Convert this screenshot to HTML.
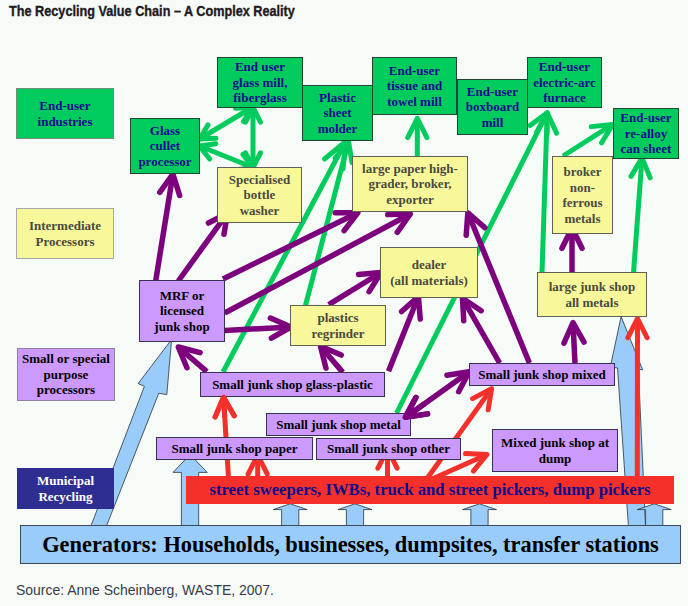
<!DOCTYPE html>
<html><head><meta charset="utf-8"><style>
html,body{margin:0;padding:0}
body{width:688px;height:606px;background:#f6fbf8;position:relative;overflow:hidden;font-family:"Liberation Serif",serif}
.bx{position:absolute;box-sizing:border-box;display:flex;align-items:center;justify-content:center;text-align:center;font-weight:bold;white-space:nowrap}
.title{position:absolute;left:9px;top:0.8px;font-family:"Liberation Sans",sans-serif;font-weight:bold;font-size:14.3px;color:#1f1a22;transform-origin:0 0;transform:scaleX(0.887);white-space:nowrap;line-height:20px;-webkit-text-stroke:0.35px #1f1a22}
.src{position:absolute;left:15.6px;top:579.9px;font-family:"Liberation Sans",sans-serif;font-size:14.5px;color:#3a3a48;white-space:nowrap;line-height:20px;transform-origin:0 0;transform:scaleX(0.963)}
svg{position:absolute;left:0;top:0}
</style></head><body>
<div class="title">The Recycling Value Chain – A Complex Reality</div>
<svg width="688" height="606" viewBox="0 0 688 606">
<polygon points="171.6,339.5 166.8,394.7 158.8,393.2 106.6,525.7 91.0,525.7 144.4,386.3 138.1,383.6" fill="#99ccf8" stroke="#2a3440" stroke-width="0.8" stroke-linejoin="miter"/>
<polygon points="621.1,316.6 642.6,369.7 638.4,369.5 645.5,525.7 628.4,525.7 617.5,368.0 610.3,367.0" fill="#99ccf8" stroke="#2a3440" stroke-width="0.8" stroke-linejoin="miter"/>
<polygon points="190.1,454.5 207.2,472.4 198.7,472.4 198.7,525.7 181.4,525.7 181.4,472.4 173.0,472.4" fill="#99ccf8" stroke="#2a3440" stroke-width="0.8" stroke-linejoin="miter"/>
<polygon points="290.2,503.8 307.2,509.6 298.8,509.6 298.8,525.7 281.6,525.7 281.6,509.6 273.2,509.6" fill="#99ccf8" stroke="#2a3440" stroke-width="0.8" stroke-linejoin="miter"/>
<polygon points="355.0,503.8 372.0,509.6 363.6,509.6 363.6,525.7 346.4,525.7 346.4,509.6 338.0,509.6" fill="#99ccf8" stroke="#2a3440" stroke-width="0.8" stroke-linejoin="miter"/>
<polygon points="479.5,503.8 496.5,509.6 488.1,509.6 488.1,525.7 470.9,525.7 470.9,509.6 462.5,509.6" fill="#99ccf8" stroke="#2a3440" stroke-width="0.8" stroke-linejoin="miter"/>
<polygon points="654.2,503.8 671.2,509.6 662.8,509.6 662.8,525.7 645.6,525.7 645.6,509.6 637.2,509.6" fill="#99ccf8" stroke="#2a3440" stroke-width="0.8" stroke-linejoin="miter"/>
<path d="M199.50,139.00 L252.00,107.50" fill="none" stroke="#00cc5e" stroke-width="5" stroke-linecap="butt"/>
<path d="M243.49,121.64 L252.00,107.50 L235.52,108.35 M208.01,124.86 L199.50,139.00 L215.98,138.15" fill="none" stroke="#00cc5e" stroke-width="5" stroke-linecap="round" stroke-linejoin="round"/>
<path d="M199.50,146.00 L253.00,167.50" fill="none" stroke="#00cc5e" stroke-width="5" stroke-linecap="butt"/>
<path d="M236.66,169.83 L253.00,167.50 L242.82,154.52 M215.84,143.67 L199.50,146.00 L209.68,158.98" fill="none" stroke="#00cc5e" stroke-width="5" stroke-linecap="round" stroke-linejoin="round"/>
<path d="M253.00,107.50 L253.00,167.50" fill="none" stroke="#00cc5e" stroke-width="5" stroke-linecap="butt"/>
<path d="M245.51,152.80 L253.00,167.50 L260.49,152.80 M260.49,122.20 L253.00,107.50 L245.51,122.20" fill="none" stroke="#00cc5e" stroke-width="5" stroke-linecap="round" stroke-linejoin="round"/>
<path d="M223.00,372.00 L345.70,141.50" fill="none" stroke="#00cc5e" stroke-width="5" stroke-linecap="butt"/>
<path d="M343.05,168.87 L345.70,141.50 L324.47,158.98" fill="none" stroke="#00cc5e" stroke-width="5" stroke-linecap="round" stroke-linejoin="round"/>
<path d="M305.50,305.40 L348.50,141.50" fill="none" stroke="#00cc5e" stroke-width="5" stroke-linecap="butt"/>
<path d="M351.97,162.72 L348.50,141.50 L335.06,158.28" fill="none" stroke="#00cc5e" stroke-width="5" stroke-linecap="round" stroke-linejoin="round"/>
<path d="M417.30,157.00 L417.30,118.30" fill="none" stroke="#00cc5e" stroke-width="5" stroke-linecap="butt"/>
<path d="M426.89,137.54 L417.30,118.30 L407.71,137.54" fill="none" stroke="#00cc5e" stroke-width="5" stroke-linecap="round" stroke-linejoin="round"/>
<path d="M396.60,413.00 L547.20,112.70" fill="none" stroke="#00cc5e" stroke-width="5" stroke-linecap="butt"/>
<path d="M547.15,134.20 L547.20,112.70 L530.00,125.60" fill="none" stroke="#00cc5e" stroke-width="5" stroke-linecap="round" stroke-linejoin="round"/>
<path d="M542.00,273.00 L547.20,112.70" fill="none" stroke="#00cc5e" stroke-width="5" stroke-linecap="butt"/>
<path d="M556.58,133.15 L547.20,112.70 L536.51,132.50" fill="none" stroke="#00cc5e" stroke-width="5" stroke-linecap="round" stroke-linejoin="round"/>
<path d="M563.00,156.00 L612.70,124.40" fill="none" stroke="#00cc5e" stroke-width="5" stroke-linecap="butt"/>
<path d="M601.61,142.82 L612.70,124.40 L591.32,126.63" fill="none" stroke="#00cc5e" stroke-width="5" stroke-linecap="round" stroke-linejoin="round"/>
<path d="M633.50,273.00 L642.00,157.90" fill="none" stroke="#00cc5e" stroke-width="5" stroke-linecap="butt"/>
<path d="M650.15,177.80 L642.00,157.90 L631.02,176.38" fill="none" stroke="#00cc5e" stroke-width="5" stroke-linecap="round" stroke-linejoin="round"/>
<path d="M228.50,478.00 L223.50,397.20" fill="none" stroke="#f5302a" stroke-width="5" stroke-linecap="butt"/>
<path d="M234.26,415.81 L223.50,397.20 L215.11,417.00" fill="none" stroke="#f5302a" stroke-width="5" stroke-linecap="round" stroke-linejoin="round"/>
<path d="M257.70,478.00 L257.70,455.00" fill="none" stroke="#f5302a" stroke-width="5" stroke-linecap="butt"/>
<path d="M267.29,474.24 L257.70,455.00 L248.11,474.24" fill="none" stroke="#f5302a" stroke-width="5" stroke-linecap="round" stroke-linejoin="round"/>
<path d="M387.50,478.00 L387.50,449.00" fill="none" stroke="#f5302a" stroke-width="5" stroke-linecap="butt"/>
<path d="M397.09,468.24 L387.50,449.00 L377.91,468.24" fill="none" stroke="#f5302a" stroke-width="5" stroke-linecap="round" stroke-linejoin="round"/>
<path d="M427.40,478.00 L491.60,388.60" fill="none" stroke="#f5302a" stroke-width="5" stroke-linecap="butt"/>
<path d="M488.17,409.82 L491.60,388.60 L472.58,398.63" fill="none" stroke="#f5302a" stroke-width="5" stroke-linecap="round" stroke-linejoin="round"/>
<path d="M434.40,478.00 L487.00,454.50" fill="none" stroke="#f5302a" stroke-width="5" stroke-linecap="butt"/>
<path d="M473.35,471.11 L487.00,454.50 L465.52,453.59" fill="none" stroke="#f5302a" stroke-width="5" stroke-linecap="round" stroke-linejoin="round"/>
<path d="M637.30,478.00 L637.50,318.50" fill="none" stroke="#f5302a" stroke-width="5" stroke-linecap="butt"/>
<path d="M647.07,337.75 L637.50,318.50 L627.88,337.73" fill="none" stroke="#f5302a" stroke-width="5" stroke-linecap="round" stroke-linejoin="round"/>
<path d="M155.70,281.00 L172.90,174.00" fill="none" stroke="#7d007d" stroke-width="5.5" stroke-linecap="butt"/>
<path d="M179.62,195.47 L172.90,174.00 L159.79,192.29" fill="none" stroke="#7d007d" stroke-width="5.5" stroke-linecap="round" stroke-linejoin="round"/>
<path d="M178.30,281.00 L227.50,213.10" fill="none" stroke="#7d007d" stroke-width="5.5" stroke-linecap="butt"/>
<path d="M223.98,234.31 L227.50,213.10 L208.44,223.05" fill="none" stroke="#7d007d" stroke-width="5.5" stroke-linecap="round" stroke-linejoin="round"/>
<path d="M223.00,279.00 L357.80,212.80" fill="none" stroke="#7d007d" stroke-width="5.5" stroke-linecap="butt"/>
<path d="M344.15,230.69 L357.80,212.80 L335.30,212.66" fill="none" stroke="#7d007d" stroke-width="5.5" stroke-linecap="round" stroke-linejoin="round"/>
<path d="M224.60,313.00 L410.30,214.00" fill="none" stroke="#7d007d" stroke-width="5.5" stroke-linecap="butt"/>
<path d="M397.25,232.33 L410.30,214.00 L387.81,214.61" fill="none" stroke="#7d007d" stroke-width="5.5" stroke-linecap="round" stroke-linejoin="round"/>
<path d="M224.60,330.40 L291.00,327.00" fill="none" stroke="#7d007d" stroke-width="5.5" stroke-linecap="butt"/>
<path d="M271.40,338.06 L291.00,327.00 L270.38,318.00" fill="none" stroke="#7d007d" stroke-width="5.5" stroke-linecap="round" stroke-linejoin="round"/>
<path d="M328.70,304.70 L381.00,272.50" fill="none" stroke="#7d007d" stroke-width="5.5" stroke-linecap="butt"/>
<path d="M369.12,291.61 L381.00,272.50 L358.59,274.51" fill="none" stroke="#7d007d" stroke-width="5.5" stroke-linecap="round" stroke-linejoin="round"/>
<path d="M342.80,372.40 L320.50,346.30" fill="none" stroke="#7d007d" stroke-width="5.5" stroke-linecap="butt"/>
<path d="M341.21,355.09 L320.50,346.30 L325.95,368.13" fill="none" stroke="#7d007d" stroke-width="5.5" stroke-linecap="round" stroke-linejoin="round"/>
<path d="M206.80,371.70 L178.30,347.00" fill="none" stroke="#7d007d" stroke-width="5.5" stroke-linecap="butt"/>
<path d="M200.09,352.60 L178.30,347.00 L186.94,367.77" fill="none" stroke="#7d007d" stroke-width="5.5" stroke-linecap="round" stroke-linejoin="round"/>
<path d="M388.50,371.20 L418.40,296.60" fill="none" stroke="#7d007d" stroke-width="5.5" stroke-linecap="butt"/>
<path d="M420.23,319.03 L418.40,296.60 L401.59,311.56" fill="none" stroke="#7d007d" stroke-width="5.5" stroke-linecap="round" stroke-linejoin="round"/>
<path d="M405.30,417.40 L469.20,371.80" fill="none" stroke="#7d007d" stroke-width="5.5" stroke-linecap="butt"/>
<path d="M458.64,391.67 L469.20,371.80 L446.98,375.32 M415.86,397.53 L405.30,417.40 L427.52,413.88" fill="none" stroke="#7d007d" stroke-width="5.5" stroke-linecap="round" stroke-linejoin="round"/>
<path d="M499.60,363.00 L462.45,298.20" fill="none" stroke="#7d007d" stroke-width="5.5" stroke-linecap="butt"/>
<path d="M481.17,310.68 L462.45,298.20 L463.76,320.66" fill="none" stroke="#7d007d" stroke-width="5.5" stroke-linecap="round" stroke-linejoin="round"/>
<path d="M529.40,363.00 L467.85,212.80" fill="none" stroke="#7d007d" stroke-width="5.5" stroke-linecap="butt"/>
<path d="M484.77,227.63 L467.85,212.80 L466.20,235.24" fill="none" stroke="#7d007d" stroke-width="5.5" stroke-linecap="round" stroke-linejoin="round"/>
<path d="M575.00,363.00 L573.00,322.60" fill="none" stroke="#7d007d" stroke-width="5.5" stroke-linecap="butt"/>
<path d="M584.02,342.21 L573.00,322.60 L563.97,343.21" fill="none" stroke="#7d007d" stroke-width="5.5" stroke-linecap="round" stroke-linejoin="round"/>
<path d="M572.00,273.00 L572.00,228.10" fill="none" stroke="#7d007d" stroke-width="5.5" stroke-linecap="butt"/>
<path d="M582.04,248.24 L572.00,228.10 L561.96,248.24" fill="none" stroke="#7d007d" stroke-width="5.5" stroke-linecap="round" stroke-linejoin="round"/>
</svg>
<div class="bx" style="left:16.0px;top:88.0px;width:98.0px;height:51.0px;background:#00cc5e;color:#0c0c8c;border:1px solid #6f8f78;font-size:13px;line-height:15.5px"><span style="position:relative;top:0px">End-user<br>industries</span></div>
<div class="bx" style="left:16.0px;top:208.0px;width:98.0px;height:51.0px;background:#f8f89a;color:#4a4a40;border:1px solid #a4a8a8;font-size:13px;line-height:15.5px"><span style="position:relative;top:0px">Intermediate<br>Processors</span></div>
<div class="bx" style="left:17.0px;top:348.0px;width:98.0px;height:53.0px;background:#cc99ff;color:#000;border:1px solid #9080a0;font-size:13px;line-height:15.5px"><span style="position:relative;top:0px">Small or special<br>purpose<br>processors</span></div>
<div class="bx" style="left:17.0px;top:468.0px;width:97.0px;height:41.0px;background:#2e2e92;color:#fff;border:1px solid #2e2e92;font-size:13px;line-height:15.5px"><span style="position:relative;top:0px">Municipal<br>Recycling</span></div>
<div class="bx" style="left:130.0px;top:118.0px;width:70.0px;height:56.0px;background:#00cc5e;color:#0c0c8c;border:1px solid #21452e;font-size:13px;line-height:15.5px"><span style="position:relative;top:0px">Glass<br>cullet<br>processor</span></div>
<div class="bx" style="left:217.0px;top:57.0px;width:86.0px;height:51.0px;background:#00cc5e;color:#0c0c8c;border:1px solid #21452e;font-size:13px;line-height:15.5px"><span style="position:relative;top:0px">End user<br>glass mill,<br>fiberglass</span></div>
<div class="bx" style="left:302.0px;top:85.0px;width:71.0px;height:56.0px;background:#00cc5e;color:#0c0c8c;border:1px solid #21452e;font-size:13px;line-height:15.5px"><span style="position:relative;top:0px">Plastic<br>sheet<br>molder</span></div>
<div class="bx" style="left:372.0px;top:57.0px;width:85.0px;height:58.0px;background:#00cc5e;color:#0c0c8c;border:1px solid #21452e;font-size:13px;line-height:15.5px"><span style="position:relative;top:0px">End-user<br>tissue and<br>towel mill</span></div>
<div class="bx" style="left:457.0px;top:79.0px;width:71.0px;height:56.0px;background:#00cc5e;color:#0c0c8c;border:1px solid #21452e;font-size:13px;line-height:15.5px"><span style="position:relative;top:0px">End-user<br>boxboard<br>mill</span></div>
<div class="bx" style="left:527.0px;top:57.0px;width:75.0px;height:51.0px;background:#00cc5e;color:#0c0c8c;border:1px solid #21452e;font-size:13px;line-height:15.5px"><span style="position:relative;top:0px">End-user<br>electric-arc<br>furnace</span></div>
<div class="bx" style="left:613.0px;top:108.0px;width:66.0px;height:51.0px;background:#00cc5e;color:#0c0c8c;border:1px solid #21452e;font-size:13px;line-height:15.5px"><span style="position:relative;top:0px">End-user<br>re-alloy<br>can sheet</span></div>
<div class="bx" style="left:217.0px;top:167.0px;width:85.0px;height:56.0px;background:#f8f89a;color:#4a4a40;border:1px solid #606058;font-size:13px;line-height:15.5px"><span style="position:relative;top:0px">Specialised<br>bottle<br>washer</span></div>
<div class="bx" style="left:352.0px;top:156.0px;width:116.0px;height:56.0px;background:#f8f89a;color:#4a4a40;border:1px solid #606058;font-size:13px;line-height:15.5px"><span style="position:relative;top:0px">large paper high-<br>grader, broker,<br>exporter</span></div>
<div class="bx" style="left:552.0px;top:156.0px;width:61.0px;height:78.0px;background:#f8f89a;color:#4a4a40;border:1px solid #606058;font-size:13px;line-height:15.5px"><span style="position:relative;top:0px">broker<br>non-<br>ferrous<br>metals</span></div>
<div class="bx" style="left:380.0px;top:247.0px;width:98.0px;height:51.0px;background:#f8f89a;color:#4a4a40;border:1px solid #606058;font-size:13px;line-height:15.5px"><span style="position:relative;top:0px">dealer<br>(all materials)</span></div>
<div class="bx" style="left:290.0px;top:305.0px;width:96.0px;height:41.0px;background:#f8f89a;color:#4a4a40;border:1px solid #606058;font-size:13px;line-height:15.5px"><span style="position:relative;top:0px">plastics<br>regrinder</span></div>
<div class="bx" style="left:537.0px;top:272.0px;width:110.0px;height:45.0px;background:#f8f89a;color:#4a4a40;border:1px solid #606058;font-size:13px;line-height:15.5px"><span style="position:relative;top:0px">large junk shop<br>all metals</span></div>
<div class="bx" style="left:139.0px;top:280.0px;width:86.0px;height:62.0px;background:#cc99ff;color:#000;border:1px solid #3a3050;font-size:13px;line-height:15.5px"><span style="position:relative;top:0px">MRF or<br>licensed<br>junk shop</span></div>
<div class="bx" style="left:200.0px;top:372.0px;width:185.0px;height:25.0px;background:#cc99ff;color:#000;border:1px solid #3a3050;font-size:13px;line-height:15.5px"><span style="position:relative;top:0.1px">Small junk shop glass-plastic</span></div>
<div class="bx" style="left:469.0px;top:363.0px;width:146.0px;height:23.0px;background:#cc99ff;color:#000;border:1px solid #3a3050;font-size:13px;line-height:15.5px"><span style="position:relative;top:0.1px">Small junk shop mixed</span></div>
<div class="bx" style="left:266.0px;top:413.0px;width:145.0px;height:23.0px;background:#cc99ff;color:#000;border:1px solid #3a3050;font-size:13px;line-height:15.5px"><span style="position:relative;top:0.1px">Small junk shop metal</span></div>
<div class="bx" style="left:156.0px;top:437.0px;width:157.0px;height:23.0px;background:#cc99ff;color:#000;border:1px solid #3a3050;font-size:13px;line-height:15.5px"><span style="position:relative;top:0.1px">Small junk shop paper</span></div>
<div class="bx" style="left:316.0px;top:438.0px;width:145.0px;height:22.0px;background:#cc99ff;color:#000;border:1px solid #3a3050;font-size:13px;line-height:15.5px"><span style="position:relative;top:0.1px">Small junk shop other</span></div>
<div class="bx" style="left:492.0px;top:429.0px;width:126.0px;height:43.0px;background:#cc99ff;color:#000;border:1px solid #3a3050;font-size:13px;line-height:15.5px"><span style="position:relative;top:0px">Mixed junk shop at<br>dump</span></div>
<div class="bx" style="left:186.0px;top:476.0px;width:488.0px;height:28.0px;background:#f5302a;color:#0c0c8c;border:0px solid #000;font-size:16.7px;line-height:19.205px"><span style="position:relative;top:0.1px">street sweepers, IWBs, truck and street pickers, dump pickers</span></div>
<div class="bx" style="left:20.0px;top:525.0px;width:661.0px;height:39.0px;background:#99ccf8;color:#000;border:1px solid #3a4a5a;font-size:22.4px;line-height:25.759999999999998px"><span style="position:relative;top:0.1px">Generators: Households, businesses, dumpsites, transfer stations</span></div>
<svg width="688" height="606" viewBox="0 0 688 606">
<path d="M224.75,417.40 L223.50,397.20" fill="none" stroke="#f5302a" stroke-width="5" stroke-linecap="butt"/>
<path d="M234.26,415.81 L223.50,397.20 L215.11,417.00" fill="none" stroke="#f5302a" stroke-width="5" stroke-linecap="round" stroke-linejoin="round"/>
<path d="M424.47,403.72 L405.30,417.40" fill="none" stroke="#7d007d" stroke-width="5.5" stroke-linecap="butt"/>
<path d="M415.86,397.53 L405.30,417.40 L427.52,413.88" fill="none" stroke="#7d007d" stroke-width="5.5" stroke-linecap="round" stroke-linejoin="round"/>
</svg>
<div class="src">Source: Anne Scheinberg, WASTE, 2007.</div>
</body></html>
